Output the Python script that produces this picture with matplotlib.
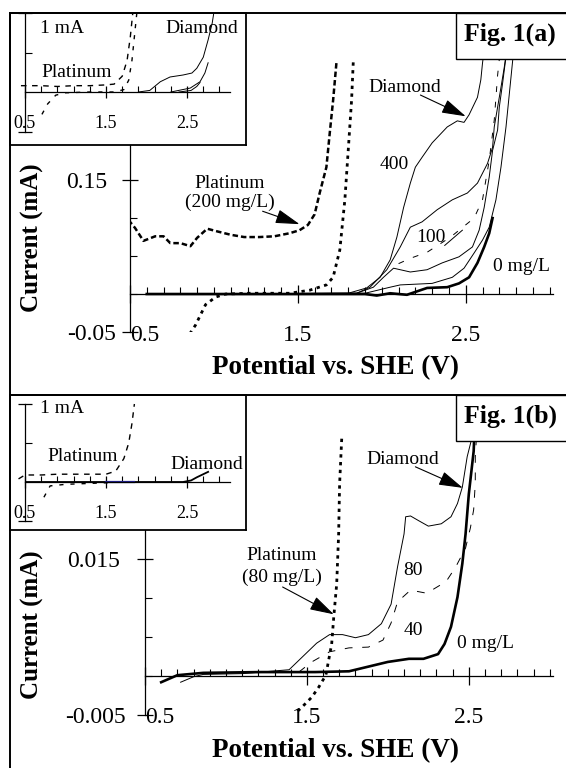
import matplotlib
matplotlib.use("Agg")
import matplotlib.pyplot as plt
from matplotlib.patches import Rectangle
from matplotlib.lines import Line2D
from matplotlib.ticker import FixedLocator, MultipleLocator, NullFormatter
from matplotlib.transforms import ScaledTranslation

plt.rcParams['font.family'] = ['Liberation Serif', 'DejaVu Serif']

# ---------------- data: Fig. 1(a) main (V, mA) ----------------
pt_a_v = [0.47, 0.50, 0.53, 0.58, 0.65, 0.70, 0.74, 0.80, 0.86, 0.90, 0.96, 1.01, 1.10, 1.18,
          1.27, 1.36, 1.45, 1.51, 1.56, 1.60, 1.63, 1.67, 1.69, 1.71, 1.73]
pt_a_i = [0.082, 0.095, 0.087, 0.070, 0.076, 0.076, 0.067, 0.067, 0.063, 0.074, 0.086, 0.083,
          0.078, 0.075, 0.075, 0.076, 0.080, 0.084, 0.091, 0.105, 0.133, 0.167, 0.212, 0.255, 0.305]
pt_a_ret_v = [1.83, 1.82, 1.80, 1.78, 1.75, 1.71, 1.67, 1.57, 1.45, 1.21, 1.07, 1.01, 0.95, 0.89, 0.86]
pt_a_ret_i = [0.305, 0.255, 0.189, 0.124, 0.058, 0.022, 0.012, 0.005, 0.001, 0.001, 0.000,
              -0.004, -0.014, -0.041, -0.051]

d400_v = [0.60, 1.80, 1.91, 1.99, 2.05, 2.09, 2.13, 2.17, 2.20, 2.24, 2.30, 2.39, 2.45, 2.49,
          2.52, 2.57, 2.59, 2.60, 2.61, 2.63]
d400_i = [0.000, 0.001, 0.008, 0.022, 0.045, 0.075, 0.114, 0.146, 0.167, 0.180, 0.199, 0.220,
          0.228, 0.226, 0.236, 0.259, 0.282, 0.304, 0.321, 0.347]
d200_v = [0.60, 1.85, 1.93, 2.03, 2.11, 2.17, 2.24, 2.33, 2.42, 2.51, 2.57, 2.63, 2.66, 2.67,
          2.69, 2.71, 2.73, 2.75]
d200_i = [0.000, 0.001, 0.009, 0.032, 0.062, 0.088, 0.095, 0.111, 0.124, 0.133, 0.146, 0.172,
          0.193, 0.220, 0.246, 0.272, 0.299, 0.330]
d100_v = [0.60, 1.85, 1.95, 2.01, 2.07, 2.17, 2.27, 2.36, 2.46, 2.54, 2.58, 2.61, 2.64, 2.66,
          2.69, 2.70, 2.72, 2.75]
d100_i = [0.000, 0.001, 0.009, 0.022, 0.034, 0.029, 0.032, 0.041, 0.049, 0.062, 0.084, 0.114,
          0.154, 0.189, 0.216, 0.246, 0.278, 0.330]
d100r_v = [2.10, 2.17, 2.27, 2.41, 2.55, 2.60, 2.64, 2.67, 2.69, 2.71]
d100r_i = [0.040, 0.047, 0.055, 0.075, 0.100, 0.124, 0.176, 0.229, 0.288, 0.330]
d50_v = [0.60, 1.90, 2.05, 2.11, 2.30, 2.42, 2.49, 2.55, 2.60, 2.64, 2.68, 2.71, 2.74, 2.76, 2.78, 2.80]
d50_i = [0.000, 0.001, 0.009, 0.012, 0.014, 0.022, 0.034, 0.054, 0.071, 0.088, 0.124, 0.167,
         0.220, 0.264, 0.308, 0.340]
d0_v = [0.60, 1.90, 1.97, 2.05, 2.15, 2.27, 2.39, 2.46, 2.52, 2.57, 2.61, 2.64, 2.66]
d0_i = [0.000, 0.000, -0.002, 0.001, -0.001, 0.008, 0.009, 0.014, 0.022, 0.041, 0.062, 0.080, 0.100]

# ---------------- data: Fig. 1(a) inset (V, mA) ----------------
ia_pt_v = [0.45, 0.55, 0.70, 0.90, 1.10, 1.30, 1.50, 1.60, 1.70, 1.76, 1.80, 1.83]
ia_pt_i = [0.08, 0.08, 0.08, 0.07, 0.08, 0.08, 0.09, 0.10, 0.20, 0.40, 0.70, 1.00]
ia_ptr_v = [1.88, 1.85, 1.82, 1.78, 1.72, 1.60, 1.30, 1.00, 0.88, 0.78, 0.70]
ia_ptr_i = [1.00, 0.70, 0.40, 0.15, 0.03, 0.00, 0.00, -0.01, -0.04, -0.15, -0.30]
ia_d400_v = [1.90, 2.04, 2.17, 2.29, 2.45, 2.56, 2.62, 2.70, 2.76, 2.81, 2.83]
ia_d400_i = [0.00, 0.02, 0.13, 0.19, 0.215, 0.24, 0.30, 0.44, 0.66, 0.87, 1.00]
ia_d100_v = [2.30, 2.54, 2.66, 2.72, 2.76]
ia_d100_i = [0.00, 0.05, 0.13, 0.24, 0.37]
ia_d0_v = [2.40, 2.55, 2.62, 2.66]
ia_d0_i = [0.00, 0.02, 0.07, 0.12]

# ---------------- data: Fig. 1(b) main (V, mA) ----------------
pt_b_v = [1.715, 1.702, 1.696, 1.684, 1.666, 1.653, 1.635, 1.617, 1.574, 1.531, 1.469, 1.433]
pt_b_i = [0.0304, 0.0246, 0.0182, 0.0118, 0.0076, 0.0041, 0.0021, 0.0001, -0.0014, -0.0027,
          -0.0040, -0.0047]
b80_v = [0.72, 0.80, 0.86, 1.10, 1.39, 1.47, 1.56, 1.64, 1.72, 1.80, 1.88, 1.96, 2.02, 2.06,
         2.10, 2.11, 2.14, 2.19, 2.25, 2.33, 2.39, 2.43, 2.46, 2.49, 2.53, 2.55]
b80_i = [-0.0008, -0.0001, 0.0002, 0.0003, 0.0008, 0.0024, 0.0042, 0.0053, 0.0053, 0.0049,
         0.0053, 0.0067, 0.0092, 0.0140, 0.0182, 0.0204, 0.0205, 0.0199, 0.0192, 0.0195,
         0.0204, 0.0221, 0.0242, 0.0281, 0.0314, 0.0365]
b40_v = [1.45, 1.53, 1.64, 1.76, 1.88, 1.97, 2.02, 2.06, 2.14, 2.24, 2.36, 2.42, 2.48, 2.51,
         2.53, 2.54, 2.54, 2.55, 2.56]
b40_i = [0.0005, 0.0018, 0.0031, 0.0036, 0.0037, 0.0046, 0.0068, 0.0095, 0.0110, 0.0106,
         0.0121, 0.0140, 0.0164, 0.0190, 0.0213, 0.0247, 0.0281, 0.0315, 0.0365]
b0_v = [0.60, 0.70, 0.86, 1.22, 1.55, 1.76, 1.88, 2.00, 2.13, 2.22, 2.31, 2.35, 2.39, 2.43,
        2.46, 2.48, 2.50, 2.53, 2.54, 2.56]
b0_i = [-0.0008, 0.0001, 0.0004, 0.0005, 0.0005, 0.0006, 0.0012, 0.0018, 0.0022, 0.0022,
        0.0028, 0.0041, 0.0063, 0.0101, 0.0144, 0.0182, 0.0233, 0.0288, 0.0340, 0.0365]

# ---------------- data: Fig. 1(b) inset (V, mA) ----------------
ib_pt_v = [0.42, 0.50, 0.70, 0.90, 1.20, 1.50, 1.62, 1.72, 1.78, 1.82, 1.85]
ib_pt_i = [0.04, 0.09, 0.09, 0.10, 0.10, 0.10, 0.14, 0.30, 0.50, 0.75, 1.00]
ib_ptr_v = [1.66, 1.50, 1.00, 0.81, 0.71]
ib_ptr_i = [0.00, -0.01, -0.03, -0.05, -0.24]
ib_d_v = [0.50, 2.45, 2.55, 2.62, 2.70, 2.76]
ib_d_i = [0.00, 0.00, 0.02, 0.06, 0.10, 0.13]
ib_dblue_v = [1.50, 1.85]
ib_dblue_i = [0.00, 0.00]

xtick_vals = [0.5, 1.5, 2.5]
xtick_text = ['0.5', '1.5', '2.5']

W, H = 566, 768
fig = plt.figure(figsize=(W / 100, H / 100), dpi=100)


def box(px0, py0, px1, py1):
    # pixel box (top-left origin) -> figure fraction rect
    return [px0 / W, 1 - py1 / H, (px1 - px0) / W, (py1 - py0) / H]


def style_main(ax, ylim, yticks, yticklabels, ystep, ypad, low_shift):
    ax.set_xlim(0.5, 3.02)
    ax.set_ylim(*ylim)
    ax.spines['top'].set_visible(False)
    ax.spines['right'].set_visible(False)
    ax.spines['bottom'].set_position(('data', 0))
    for s in ['left', 'bottom']:
        ax.spines[s].set_linewidth(0.9)
    ax.set_xticks(xtick_vals)
    ax.set_xticklabels(xtick_text)
    ax.xaxis.set_minor_locator(MultipleLocator(0.1))
    ax.set_yticks(yticks)
    ax.set_yticklabels(yticklabels)
    ax.yaxis.set_minor_locator(MultipleLocator(ystep))
    ax.tick_params(axis='x', which='major', direction='inout', length=13, width=0.9,
                   pad=16, labelsize=17)
    ax.tick_params(axis='x', which='minor', direction='in', length=5, width=0.8)
    ax.tick_params(axis='y', which='major', direction='inout', length=11, width=0.9,
                   pad=ypad, labelsize=17)
    ax.tick_params(axis='y', which='minor', direction='in', length=5, width=0.8)
    ax.xaxis.get_major_ticks()[0].label1.set_horizontalalignment('left')
    # the lowest y label sits closer to the axis in the original
    lab = ax.yaxis.get_major_ticks()[0].label1
    lab.set_transform(lab.get_transform() + ScaledTranslation(low_shift / 100, 0, fig.dpi_scale_trans))


def style_inset(ax):
    ax.set_xlim(0.5, 3.03)
    ax.set_ylim(-0.5, 1.0)
    ax.patch.set_alpha(0)
    ax.spines['top'].set_visible(False)
    ax.spines['right'].set_visible(False)
    ax.spines['bottom'].set_position(('data', 0))
    for s in ['left', 'bottom']:
        ax.spines[s].set_linewidth(0.9)
    ax.set_xticks(xtick_vals)
    ax.set_xticklabels(xtick_text)
    ax.xaxis.set_minor_locator(MultipleLocator(0.2, offset=0.1))
    ax.yaxis.set_major_locator(FixedLocator([-0.5, 1.0]))
    ax.yaxis.set_minor_locator(FixedLocator([0.5]))
    ax.yaxis.set_major_formatter(NullFormatter())
    ax.tick_params(axis='x', which='major', direction='inout', length=9, width=0.9,
                   pad=12, labelsize=13)
    ax.tick_params(axis='x', which='minor', direction='in', length=4, width=0.8)
    ax.tick_params(axis='y', which='major', direction='inout', length=10, width=0.9)
    ax.tick_params(axis='y', which='minor', direction='in', length=5, width=0.8)


def frame_box(px0, py0, px1, py1):
    fb = fig.add_axes(box(px0, py0, px1, py1), zorder=1)
    fb.set_xticks([])
    fb.set_yticks([])
    fb.set_facecolor('white')
    for s in fb.spines.values():
        s.set_linewidth(1.3)
    return fb


thin = dict(color='black', lw=0.7)
thick = dict(color='black', lw=1.9)
dotted = dict(color='black', lw=2.0, linestyle=(0, (1.2, 1.6)))
arrow = dict(arrowstyle='-|>,head_length=0.75,head_width=0.22', color='black', lw=0.8,
             mutation_scale=20, shrinkA=0, shrinkB=0)
small = 14

# ================= Fig. 1(a) =================
ax_a = fig.add_axes(box(130, 13, 553, 332), zorder=0)
style_main(ax_a, (-0.05, 0.37), [-0.05, 0.15], ['-0.05', '0.15'], 0.05, 11, 9)
ax_a.plot(pt_a_v, pt_a_i, color='black', lw=1.8, linestyle=(0, (2.2, 1.2)))
ax_a.plot(pt_a_ret_v, pt_a_ret_i, **dotted)
ax_a.plot(d400_v, d400_i, **thin)
ax_a.plot(d200_v, d200_i, **thin)
ax_a.plot(d100_v, d100_i, **thin)
ax_a.plot(d100r_v, d100r_i, color='black', lw=0.7, linestyle=(0, (6, 10)))
ax_a.plot(d50_v, d50_i, **thin)
ax_a.plot(d0_v, d0_i, **thick)

ax_a.text(1.095, 0.146, 'Platinum', fontsize=small, ha='center', va='center')
ax_a.text(1.095, 0.121, '(200 mg/L)', fontsize=small, ha='center', va='center')
ax_a.annotate('', xy=(1.51, 0.092), xytext=(1.29, 0.109), arrowprops=arrow)
ax_a.text(2.137, 0.272, 'Diamond', fontsize=small, ha='center', va='center')
ax_a.annotate('', xy=(2.50, 0.234), xytext=(2.23, 0.262), arrowprops=arrow)
ax_a.text(2.077, 0.170, '400', fontsize=small, ha='center', va='center')
ax_a.text(2.29, 0.074, '100', fontsize=small, ha='center', va='center')
ax_a.plot([2.375, 2.48], [0.064, 0.084], color='black', lw=0.7)
ax_a.text(2.83, 0.036, '0 mg/L', fontsize=small, ha='center', va='center')

frame_box(10, 13, 246, 145)
ia = fig.add_axes(box(25, 13, 230, 131.5), zorder=2)
style_inset(ia)
ia.plot(ia_pt_v, ia_pt_i, color='black', lw=1.0, linestyle=(0, (4, 4)), clip_on=False)
ia.plot(ia_ptr_v, ia_ptr_i, color='black', lw=1.0, linestyle=(0, (3, 5)), clip_on=False)
ia.plot(ia_d400_v, ia_d400_i, **thin)
ia.plot(ia_d100_v, ia_d100_i, **thin)
ia.plot(ia_d0_v, ia_d0_i, **thin)
ia.text(0.957, 0.81, '1 mA', fontsize=small, ha='center', va='center')
ia.text(1.142, 0.25, 'Platinum', fontsize=small, ha='center', va='center')
ia.text(2.685, 0.81, 'Diamond', fontsize=small, ha='center', va='center')

# ================= Fig. 1(b) =================
ax_b = fig.add_axes(box(145, 395, 553, 715), zorder=0)
style_main(ax_b, (-0.005, 0.036), [-0.005, 0.015], ['-0.005', '0.015'], 0.005, 12.5, 6)
ax_b.plot(pt_b_v, pt_b_i, **dotted)
ax_b.plot(b80_v, b80_i, **thin)
ax_b.plot(b40_v, b40_i, color='black', lw=0.7, linestyle=(0, (8, 10)))
ax_b.plot(b0_v, b0_i, **thick)

ax_b.text(1.347, 0.0155, 'Platinum', fontsize=small, ha='center', va='center')
ax_b.text(1.347, 0.0127, '(80 mg/L)', fontsize=small, ha='center', va='center')
ax_b.annotate('', xy=(1.666, 0.0079), xytext=(1.35, 0.0114), arrowprops=arrow)
ax_b.text(2.095, 0.0277, 'Diamond', fontsize=small, ha='center', va='center')
ax_b.annotate('', xy=(2.463, 0.0241), xytext=(2.17, 0.0268), arrowprops=arrow)
ax_b.text(2.156, 0.0135, '80', fontsize=small, ha='center', va='center')
ax_b.text(2.156, 0.0058, '40', fontsize=small, ha='center', va='center')
ax_b.text(2.604, 0.0041, '0 mg/L', fontsize=small, ha='center', va='center')

frame_box(10, 395, 246, 530)
ib = fig.add_axes(box(25, 404, 230, 521), zorder=2)
style_inset(ib)
ib.plot(ib_pt_v, ib_pt_i, color='black', lw=1.0, linestyle=(0, (4, 4)), clip_on=False)
ib.plot(ib_ptr_v, ib_ptr_i, color='black', lw=1.0, linestyle=(0, (3, 5)), clip_on=False)
ib.plot(ib_d_v, ib_d_i, color='black', lw=1.3)
ib.plot(ib_dblue_v, ib_dblue_i, color='#1f1f8f', lw=1.6)
ib.text(0.957, 0.94, '1 mA', fontsize=small, ha='center', va='center')
ib.text(1.216, 0.33, 'Platinum', fontsize=small, ha='center', va='center')
ib.text(2.747, 0.23, 'Diamond', fontsize=small, ha='center', va='center')

# axis titles
for yc in (238, 625):
    fig.text(32 / W, 1 - yc / H, 'Current (mA)', rotation=90, fontsize=18, fontweight='bold',
             ha='center', va='center')
for yc in (368, 751):
    fig.text(335 / W, 1 - yc / H, 'Potential vs. SHE (V)', fontsize=19.5, fontweight='bold',
             ha='center', va='center')

# panel tags
for (y0, y1, tag) in ((13, 59, 'Fig. 1(a)'), (395, 441, 'Fig. 1(b)')):
    fig.add_artist(Rectangle((456 / W, 1 - y1 / H), 120 / W, (y1 - y0) / H,
                             transform=fig.transFigure, facecolor='white',
                             edgecolor='black', lw=1.0, zorder=5))
    fig.text(464 / W, 1 - (y0 + y1 - 4) / 2 / H, tag, fontsize=18.5, fontweight='bold',
             ha='left', va='center', zorder=6)

# outer panel frame lines
for xs, ys in (([10, 10], [13, 768]), ([10, 566], [13, 13]), ([10, 566], [395, 395])):
    fig.add_artist(Line2D([x / W for x in xs], [1 - y / H for y in ys],
                          transform=fig.transFigure, color='black', lw=1.4, zorder=7))

fig.savefig('out.png', dpi=100)
